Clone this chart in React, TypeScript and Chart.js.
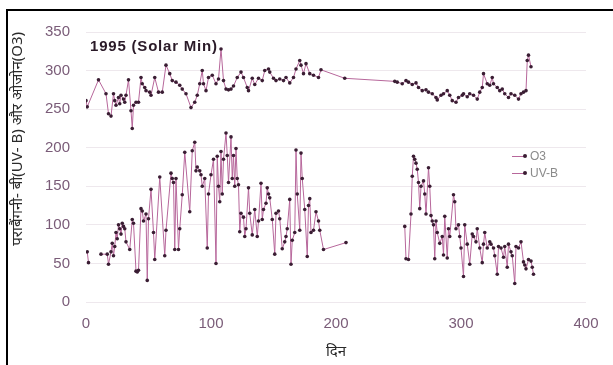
import React, { useEffect, useRef } from "react";
import { Chart, registerables } from "chart.js";

Chart.register(...registerables);

// ---- data ----
const chartTitle = "1995 (Solar Min)";
const yAxisTitle = "पराबैंगनी- बी(UV- B) और ओजोन(O3)";
const xAxisTitle = "दिन";
const seriesNames = ["O3", "UV-B"];
const xTickValues = [0, 100, 200, 300, 400];
const yTickValues = [0, 50, 100, 150, 200, 250, 300, 350];

const o3Days = [0, 1, 10, 16, 18, 20, 22, 23, 24, 26, 27, 28, 30, 31, 32, 34, 36, 37, 38, 40, 42, 44, 45, 47, 48, 51, 52, 55, 58, 61, 64, 67, 69, 72, 75, 77, 80, 84, 87, 89, 91, 93, 94, 96, 98, 101, 104, 106, 108, 110, 112, 114, 116, 118, 121, 124, 126, 129, 130, 133, 135, 138, 141, 143, 146, 147, 150, 152, 155, 158, 160, 163, 166, 168, 171, 172, 174, 176, 179, 182, 186, 188, 207, 247, 249, 253, 256, 258, 261, 264, 266, 269, 272, 274, 277, 280, 281, 284, 286, 289, 291, 293, 296, 298, 301, 302, 305, 307, 310, 313, 315, 317, 318, 321, 323, 325, 326, 329, 331, 333, 335, 338, 340, 343, 346, 348, 350, 352, 353, 354, 356];
const o3Values = [261, 253, 288, 270, 244, 241, 270, 261, 255, 265, 257, 268, 263, 259, 268, 288, 248, 225, 255, 259, 259, 291, 283, 278, 274, 272, 268, 291, 272, 272, 307, 296, 287, 285, 281, 276, 270, 252, 259, 268, 283, 300, 283, 274, 291, 294, 283, 289, 328, 287, 276, 275, 276, 280, 291, 298, 291, 278, 274, 290, 282, 290, 287, 300, 302, 298, 290, 287, 289, 287, 291, 284, 291, 302, 313, 307, 296, 309, 296, 294, 291, 301, 290, 286, 285, 283, 287, 285, 282, 284, 278, 274, 275, 272, 270, 265, 262, 268, 270, 274, 268, 261, 259, 265, 268, 270, 266, 270, 268, 263, 272, 278, 296, 283, 281, 291, 283, 278, 274, 276, 270, 265, 270, 268, 263, 270, 272, 274, 313, 320, 305];

const uvbDays = [1, 2, 6, 12, 17, 18, 20, 21, 22, 23, 24, 25, 26, 27, 28, 29, 30, 31, 32, 35, 37, 38, 40, 41, 42, 44, 45, 46, 48, 49, 50, 52, 54, 55, 59, 63, 64, 68, 69, 70, 71, 72, 74, 75, 77, 79, 83, 85, 87, 88, 89, 91, 92, 93, 95, 97, 98, 100, 102, 104, 105, 106, 107, 108, 109, 110, 112, 113, 114, 116, 117, 118, 119, 120, 121, 122, 123, 124, 126, 127, 128, 130, 131, 133, 135, 137, 138, 140, 141, 142, 144, 145, 146, 147, 149, 151, 152, 154, 155, 157, 159, 160, 161, 163, 164, 165, 167, 168, 169, 171, 172, 173, 175, 177, 178, 179, 180, 182, 184, 186, 187, 190, 208, 230, 255, 256, 258, 260, 261, 262, 263, 264, 265, 266, 267, 268, 270, 271, 272, 274, 275, 276, 277, 278, 279, 280, 281, 283, 285, 286, 287, 289, 290, 291, 294, 295, 296, 298, 299, 300, 302, 303, 305, 307, 309, 310, 312, 313, 315, 317, 318, 319, 321, 323, 324, 326, 327, 329, 330, 332, 334, 335, 337, 338, 340, 341, 343, 344, 346, 348, 350, 351, 352, 354, 356, 357, 358];
const uvbValues: (number | null)[] = [65, 51, null, 62, 62, 49, 65, 76, 60, 72, 90, 82, 100, 95, 88, 102, 98, 95, 78, 68, 107, 102, 40, 39, 41, 121, 118, 105, 114, 28, 108, 146, 90, 55, 162, 60, 93, 167, 160, 155, 68, 160, 68, 95, 139, 194, 117, 196, 207, 170, 175, 170, 165, 150, 160, 70, 140, 165, 185, 50, 189, 150, 130, 195, 140, 185, 219, 190, 155, 214, 160, 190, 150, 199, 160, 152, 91, 115, 110, 85, 95, 148, 115, 87, 120, 85, 105, 154, 107, 120, 128, 148, 140, 135, 107, 62, 115, 118, 108, 69, 78, 85, 95, 133, 49, 80, 90, 197, 140, 93, 193, 160, 120, 59, 125, 134, 90, 93, 117, 105, 93, 68, 77, null, 98, 56, 55, 114, 163, 189, 185, 180, 172, 155, 121, 150, 157, 140, 114, 174, 150, 112, 105, 100, 56, 105, 90, 76, 85, 61, 111, 57, 95, 85, 139, 130, 95, 100, 85, 70, 33, 100, 75, 49, 88, 85, 78, 95, 70, 51, 75, 90, 70, 78, 75, 70, 60, 36, 72, 70, 58, 72, 45, 75, 65, 60, 24, 72, 70, 78, 52, 48, 43, 55, 53, 45, 36];

// ---- styles ----
const LINE_COLOR = "#b7679b";
const MARKER_COLOR = "#3a1d33";
const TICK_COLOR = "#7a5c78";
const LATIN_FONT = "'Liberation Sans', Arial, Helvetica, sans-serif";
const HINDI_FONT = "'Noto Sans', 'Noto Sans Devanagari', 'Lohit Devanagari', 'FreeSans', sans-serif";

function toPoints(days: number[], values: (number | null)[]) {
  const n = Math.min(days.length, values.length);
  const pts: { x: number; y: number | null }[] = [];
  for (let i = 0; i < n; i++) pts.push({ x: days[i], y: values[i] });
  return pts;
}

export default function App() {
  const canvasRef = useRef<HTMLCanvasElement | null>(null);

  useEffect(() => {
    const canvas = canvasRef.current;
    if (!canvas) return;
    const ds = (label: string, data: any) => ({
      label,
      data,
      borderColor: LINE_COLOR,
      backgroundColor: MARKER_COLOR,
      borderWidth: 1,
      pointRadius: 1.8,
      pointBorderWidth: 0,
      pointBackgroundColor: MARKER_COLOR,
      pointBorderColor: MARKER_COLOR,
      tension: 0,
      spanGaps: false,
    });
    const chart = new Chart(canvas, {
      type: "line",
      data: {
        datasets: [
          ds(seriesNames[0], toPoints(o3Days, o3Values)),
          ds(seriesNames[1], toPoints(uvbDays, uvbValues)),
        ],
      },
      options: {
        responsive: false,
        animation: false,
        devicePixelRatio: 1,
        layout: { padding: { left: 0, top: 32, right: 27, bottom: 0 } },
        plugins: { legend: { display: false }, tooltip: { enabled: false } },
        scales: {
          x: {
            type: "linear",
            min: 0,
            max: 400,
            afterBuildTicks: (s: any) => {
              s.ticks = xTickValues.map((v) => ({ value: v }));
            },
            afterFit: (s: any) => {
              s.height = 63;
            },
            grid: { display: false, drawTicks: false },
            border: { display: false },
            ticks: {
              padding: 13,
              color: TICK_COLOR,
              font: { size: 15, family: LATIN_FONT },
              maxRotation: 0,
            },
            title: {
              display: true,
              text: xAxisTitle,
              color: "#2a2a2a",
              font: { size: 15, family: HINDI_FONT },
              padding: { top: 0, bottom: 4 },
            },
          },
          y: {
            min: 0,
            max: 350,
            afterBuildTicks: (s: any) => {
              s.ticks = yTickValues.map((v) => ({ value: v }));
            },
            afterFit: (s: any) => {
              s.width = 86;
            },
            grid: { color: "rgba(200,180,195,0.3)", lineWidth: 1, drawTicks: false },
            border: { display: false },
            ticks: {
              padding: 16,
              color: TICK_COLOR,
              font: { size: 15, family: LATIN_FONT },
            },
            title: {
              display: true,
              text: yAxisTitle,
              align: "end",
              color: "#2a2a2a",
              font: { size: 15, family: HINDI_FONT },
              padding: { top: 9, bottom: 0 },
            },
          },
        },
      },
    } as any);
    return () => chart.destroy();
  }, []);

  const legendRow = (name: string, top: number) => (
    <div
      key={name}
      style={{ position: "absolute", left: 512, top, height: 14, display: "flex", alignItems: "center" }}
    >
      <span style={{ display: "inline-block", width: 13, height: 1, background: LINE_COLOR }} />
      <span
        style={{ display: "inline-block", width: 4, height: 4, borderRadius: 2, background: MARKER_COLOR, marginLeft: -2 }}
      />
      <span style={{ marginLeft: 3, fontFamily: LATIN_FONT, fontSize: 12, color: "#8a8a8a", lineHeight: "14px" }}>{name}</span>
    </div>
  );

  return (
    <div style={{ position: "fixed", left: 0, top: 0, width: 613, height: 365, background: "#fff", overflow: "hidden" }}>
      <canvas ref={canvasRef} width={613} height={365} style={{ position: "absolute", left: 0, top: 0, width: 613, height: 365 }} />
      <div
        style={{ position: "absolute", left: 6, top: 9, width: 640, height: 400, borderTop: "2px solid #000", borderLeft: "2px solid #000" }}
      />
      <div
        style={{
          position: "absolute",
          left: 90,
          top: 37,
          fontFamily: LATIN_FONT,
          fontWeight: "bold",
          fontSize: 15,
          letterSpacing: 0.8,
          color: "#2a1a28",
          whiteSpace: "nowrap",
        }}
      >
        {chartTitle}
      </div>
      {legendRow(seriesNames[0], 149)}
      {legendRow(seriesNames[1], 166)}
    </div>
  );
}
